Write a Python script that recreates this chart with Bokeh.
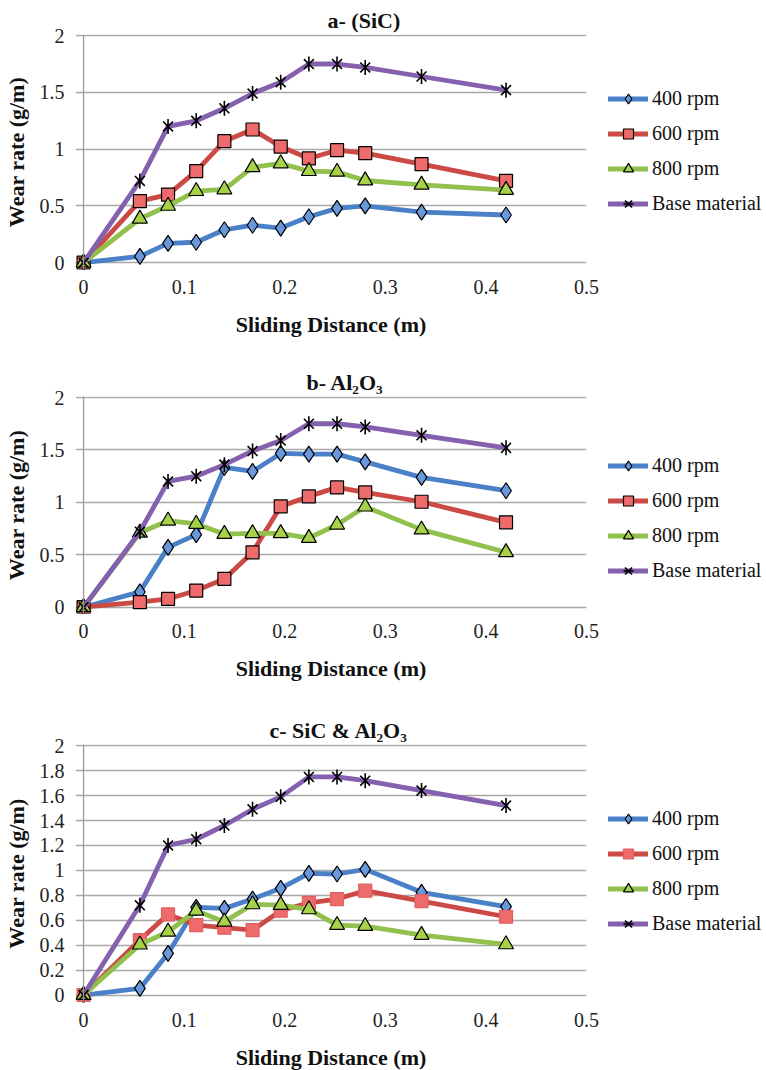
import math
from bokeh.plotting import figure
from bokeh.models import Range1d, FixedTicker, Legend, LegendItem, Span
from bokeh.layouts import column
from bokeh.embed import file_html
from bokeh.resources import INLINE

# ---------------- data ----------------
distance = [0, 0.056, 0.084, 0.112, 0.14, 0.168, 0.196, 0.224, 0.252, 0.28, 0.336, 0.42]
series_names = ["400 rpm", "600 rpm", "800 rpm", "Base material"]

base_material = [0, 0.72, 1.20, 1.25, 1.36, 1.49, 1.59, 1.75, 1.75, 1.72, 1.64, 1.52]

sic_400 = [0, 0.056, 0.17, 0.18, 0.29, 0.33, 0.305, 0.405, 0.478, 0.50, 0.446, 0.42]
sic_600 = [0, 0.543, 0.60, 0.806, 1.07, 1.173, 1.023, 0.918, 0.991, 0.965, 0.868, 0.721]
sic_800 = [0, 0.387, 0.50, 0.63, 0.645, 0.84, 0.874, 0.806, 0.80, 0.724, 0.686, 0.64]

al_400 = [0, 0.146, 0.571, 0.692, 1.333, 1.295, 1.467, 1.46, 1.46, 1.387, 1.238, 1.111]
al_600 = [0, 0.048, 0.079, 0.159, 0.27, 0.524, 0.962, 1.057, 1.143, 1.095, 1.006, 0.81]
al_800 = [0, 0.71, 0.825, 0.794, 0.698, 0.705, 0.705, 0.66, 0.787, 0.959, 0.74, 0.524]

mix_400 = [0, 0.053, 0.334, 0.703, 0.695, 0.77, 0.856, 0.976, 0.971, 1.008, 0.824, 0.709]
mix_600 = [0, 0.441, 0.647, 0.561, 0.54, 0.521, 0.676, 0.74, 0.77, 0.837, 0.754, 0.628]
mix_800 = [0, 0.404, 0.508, 0.676, 0.588, 0.727, 0.722, 0.687, 0.561, 0.553, 0.481, 0.406]

titles = ["a- (SiC)", "b- Al\u2082O\u2083", "c- SiC & Al\u2082O\u2083"]

x_ticks = [0, 0.1, 0.2, 0.3, 0.4, 0.5]
x_tick_labels = ["0", "0.1", "0.2", "0.3", "0.4", "0.5"]
y_ticks_half = [0, 0.5, 1, 1.5, 2]
y_tick_labels_half = ["0", "0.5", "1", "1.5", "2"]
y_ticks_fifth = [0, 0.2, 0.4, 0.6, 0.8, 1, 1.2, 1.4, 1.6, 1.8, 2]
y_tick_labels_fifth = ["0", "0.2", "0.4", "0.6", "0.8", "1", "1.2", "1.4", "1.6", "1.8", "2"]

x_label = "Sliding Distance (m)"
y_label = "Wear rate (g/m)"

# ---------------- style ----------------
FONT = "'Liberation Serif', 'DejaVu Serif', 'Times New Roman', serif"
LINE_COLORS = ["#4A80C8", "#CC4A46", "#92C04C", "#8460AE"]
FILL_COLORS = ["#6A98DC", "#EE6B6B", "#A8D14A", None]
MARKERS = ["diamond", "square", "triangle", None]
MARKER_SIZES = [16, 13, 15, 0]


def make_panel(title, ys, yticks, ylabels, frame_h, top_b, bottom_b,
               title_left, legend_vy, red_outline="black", xlab_standoff=15):
    p = figure(frame_width=511, frame_height=frame_h,
               x_range=Range1d(-0.008, 0.5), y_range=Range1d(-0.06, 2.01),
               output_backend="svg", toolbar_location=None,
               min_border_left=67, min_border_right=172,
               min_border_top=top_b, min_border_bottom=bottom_b,
               background_fill_color="white", border_fill_color="white")
    p.outline_line_color = None
    p.title.text = title
    p.title.align = "left"
    p.title.offset = title_left
    p.title.text_font = FONT
    p.title.text_font_size = "22px"
    p.title.text_font_style = "bold"
    p.title.text_color = "#111111"
    p.title.standoff = 4

    p.xgrid.grid_line_color = None
    p.ygrid.grid_line_color = "#A8A8A8"
    p.ygrid.grid_line_width = 1.3

    for ax in (p.xaxis[0], p.yaxis[0]):
        ax.axis_line_color = None
        ax.major_tick_line_color = None
        ax.minor_tick_line_color = None
        ax.major_label_text_font = FONT
        ax.major_label_text_font_size = "20px"
        ax.major_label_text_color = "#222222"
        ax.axis_label_text_font = FONT
        ax.axis_label_text_font_size = "22px"
        ax.axis_label_text_font_style = "bold"
        ax.axis_label_text_color = "#111111"

    p.xaxis.ticker = FixedTicker(ticks=x_ticks)
    p.xaxis.major_label_overrides = dict(zip(x_ticks, x_tick_labels))
    p.xaxis.axis_label = x_label
    p.xaxis.major_label_standoff = 4
    p.xaxis.axis_label_standoff = xlab_standoff

    p.yaxis.ticker = FixedTicker(ticks=yticks)
    p.yaxis.major_label_overrides = dict(zip(yticks, ylabels))
    p.yaxis.axis_label = y_label
    p.yaxis.major_label_standoff = 5
    p.yaxis.axis_label_standoff = 8

    p.add_layout(Span(location=0, dimension="height",
                      line_color="#9A9A9A", line_width=1.3))

    items = []
    for i, (name, yv) in enumerate(zip(series_names, ys)):
        lr = p.line(distance, yv, line_color=LINE_COLORS[i], line_width=4.8,
                    line_join="round", line_cap="round")
        rs = [lr]
        if MARKERS[i] is not None:
            oc = red_outline if i == 1 else "black"
            mr = p.scatter(distance, yv, marker=MARKERS[i], size=MARKER_SIZES[i],
                           fill_color=FILL_COLORS[i], line_color=oc, line_width=1.2)
            rs.append(mr)
        else:
            m1 = p.scatter(distance, yv, marker="x", size=14,
                           line_color="black", line_width=1.6)
            m2 = p.scatter(distance, yv, marker="dash", size=15, angle=math.pi / 2,
                           line_color="black", line_width=1.6)
            rs += [m1, m2]
        items.append(LegendItem(label=name, renderers=rs))

    legend = Legend(items=items, location=(22, legend_vy),
                    glyph_width=40, glyph_height=25, label_height=20,
                    spacing=10, label_standoff=4, padding=0, margin=0,
                    border_line_color=None, background_fill_alpha=0,
                    label_text_font=FONT, label_text_font_size="20px",
                    label_text_color="#111111")
    p.add_layout(legend, "right")
    return p


pa = make_panel(titles[0], [sic_400, sic_600, sic_800, base_material],
                y_ticks_half, y_tick_labels_half, 235, 34, 73, 252, 53)
pb = make_panel(titles[1], [al_400, al_600, al_800, base_material],
                y_ticks_half, y_tick_labels_half, 217, 54, 79, 231, 30.5)
pc = make_panel(titles[2], [mix_400, mix_600, mix_800, base_material],
                y_ticks_fifth, y_tick_labels_fifth, 258, 52, 52, 194, 66,
                red_outline="#E06060")

layout = column(pa, pb, pc, spacing=0)
open("out.html", "w").write(file_html(layout, INLINE))
